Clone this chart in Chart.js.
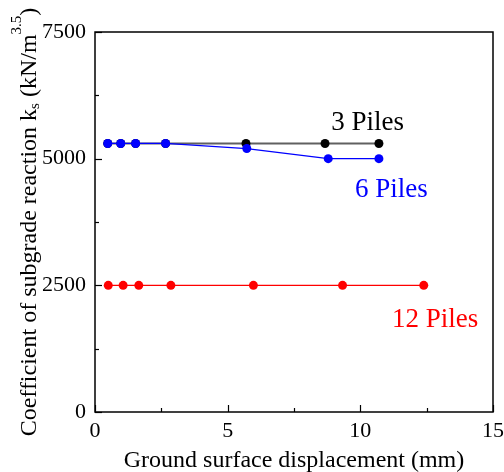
<!DOCTYPE html>
<html><head><meta charset="utf-8">
<script src="https://cdn.jsdelivr.net/npm/chart.js@4/dist/chart.umd.min.js"></script>
<style>html,body{margin:0;padding:0;background:#fff}#wrap{width:504px;height:472px}</style>
</head><body><div id="wrap"><canvas id="c" width="504" height="472"></canvas></div>
<script>
const x3 = [0.48, 0.97, 1.53, 2.66, 5.69, 8.67, 10.7];
const y3 = [5300, 5300, 5300, 5300, 5300, 5300, 5300];
const x6 = [0.48, 0.97, 1.53, 2.66, 5.72, 8.79, 10.7];
const y6 = [5300, 5300, 5300, 5300, 5200, 5000, 5000];
const x12 = [0.50, 1.06, 1.65, 2.86, 5.97, 9.33, 12.39];
const y12 = [2500, 2500, 2500, 2500, 2500, 2500, 2500];
const xTicks = [0, 5, 10, 15];
const yTicks = [0, 2500, 5000, 7500];
const seriesLabels = ['3 Piles', '6 Piles', '12 Piles'];

const FONT = "'Liberation Serif','Times New Roman',serif";
const pts = (xs, ys) => xs.map((x, i) => ({x: x, y: ys[i]}));

const annot = {
  id: 'annot',
  afterDraw(chart) {
    const {ctx, chartArea: a, scales: {x, y}} = chart;
    ctx.save();
    ctx.strokeStyle = '#000';
    ctx.lineWidth = 1.5;
    ctx.strokeRect(a.left, a.top, a.right - a.left, a.bottom - a.top);
    ctx.lineWidth = 1.2;
    // inward ticks
    for (let v = 0; v <= 15.001; v += 2.5) {
      const px = Math.round(x.getPixelForValue(v)) + 0.5;
      const len = (Math.abs(v % 5) < 1e-6) ? 7 : 4;
      ctx.beginPath(); ctx.moveTo(px, a.bottom); ctx.lineTo(px, a.bottom - len); ctx.stroke();
    }
    for (let v = 0; v <= 7500.1; v += 1250) {
      const py = Math.round(y.getPixelForValue(v)) + 0.5;
      const len = (Math.abs(v % 2500) < 1e-6) ? 7 : 4;
      ctx.beginPath(); ctx.moveTo(a.left, py); ctx.lineTo(a.left + len, py); ctx.stroke();
    }
    // series labels
    ctx.font = '27px ' + FONT;
    ctx.textAlign = 'left';
    ctx.textBaseline = 'alphabetic';
    ctx.fillStyle = '#000';
    ctx.fillText(seriesLabels[0], x.getPixelForValue(8.90), y.getPixelForValue(5565));
    ctx.fillStyle = '#0000ff';
    ctx.fillText(seriesLabels[1], x.getPixelForValue(9.80), y.getPixelForValue(4243));
    ctx.fillStyle = '#ff0000';
    ctx.fillText(seriesLabels[2], x.getPixelForValue(11.19), y.getPixelForValue(1677));
    // x title
    ctx.fillStyle = '#000';
    ctx.font = '24px ' + FONT;
    ctx.textAlign = 'center';
    ctx.fillText('Ground surface displacement (mm)', (a.left + a.right) / 2, 467);
    // y title with sub/superscripts
    ctx.save();
    ctx.translate(36, (a.top + a.bottom) / 2);
    ctx.rotate(-Math.PI / 2);
    const parts = [
      {t: 'Coefficient of subgrade reaction k', s: 24, dy: 0},
      {t: 's', s: 15, dy: 3},
      {t: ' (kN/m', s: 24, dy: 0},
      {t: '3.5', s: 15, dy: -15},
      {t: ')', s: 24, dy: 0}
    ];
    let total = 0;
    parts.forEach(p => { ctx.font = p.s + 'px ' + FONT; p.w = ctx.measureText(p.t).width; total += p.w; });
    let cx = -total / 2;
    ctx.textAlign = 'left';
    parts.forEach(p => { ctx.font = p.s + 'px ' + FONT; ctx.fillText(p.t, cx, p.dy); cx += p.w; });
    ctx.restore();
    ctx.restore();
  }
};

new Chart(document.getElementById('c'), {
  type: 'line',
  data: {
    datasets: [
      {label: seriesLabels[1], data: pts(x6, y6), borderColor: '#0000ff', backgroundColor: '#0000ff',
       borderWidth: 1.2, pointRadius: 4.5, pointBorderWidth: 0, order: 1},
      {label: seriesLabels[0], data: pts(x3, y3), borderColor: '#606060', backgroundColor: '#000000',
       borderWidth: 2, pointRadius: 4.5, pointBorderWidth: 0, order: 2},
      {label: seriesLabels[2], data: pts(x12, y12), borderColor: '#ff0000', backgroundColor: '#ff0000',
       borderWidth: 1.2, pointRadius: 4.5, pointBorderWidth: 0, order: 3}
    ]
  },
  options: {
    responsive: false,
    animation: false,
    layout: {padding: {top: 32, right: 11, left: 0, bottom: 0}},
    plugins: {legend: {display: false}, tooltip: {enabled: false}},
    scales: {
      x: {
        type: 'linear', min: 0, max: 15,
        grid: {display: false, drawTicks: false},
        border: {display: false},
        afterBuildTicks: s => { s.ticks = xTicks.map(v => ({value: v})); },
        afterFit: s => { s.height = 60; s.paddingLeft = 0; s.paddingRight = 0; },
        ticks: {color: '#000', font: {family: FONT, size: 22}, padding: 6, maxRotation: 0,
                callback: v => String(v)}
      },
      y: {
        type: 'linear', min: 0, max: 7500,
        grid: {display: false, drawTicks: false},
        border: {display: false},
        afterBuildTicks: s => { s.ticks = yTicks.map(v => ({value: v})); },
        afterFit: s => { s.width = 95; s.paddingTop = 0; s.paddingBottom = 0; },
        ticks: {color: '#000', font: {family: FONT, size: 22}, padding: 9,
                callback: v => String(v)}
      }
    }
  },
  plugins: [annot]
});
</script>
</body></html>
